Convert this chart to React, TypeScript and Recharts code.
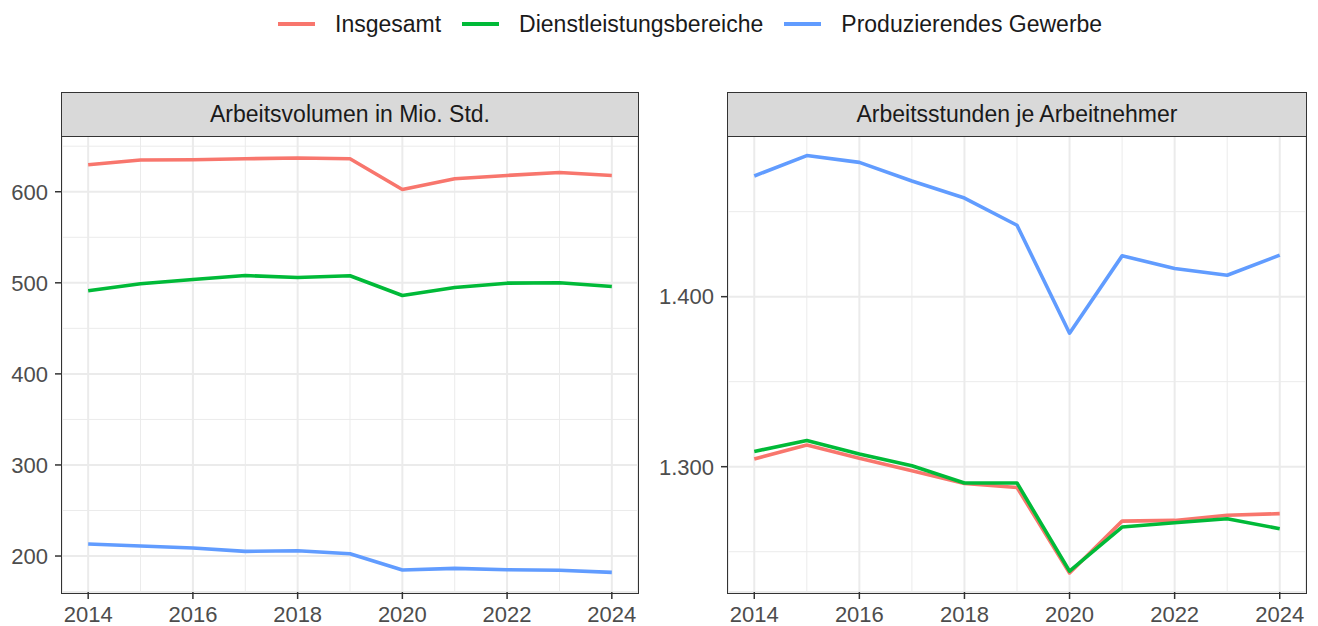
import React from "react"
import { LineChart, Line, XAxis, YAxis, CartesianGrid, ReferenceLine } from "recharts"

const years = [2014, 2015, 2016, 2017, 2018, 2019, 2020, 2021, 2022, 2023, 2024]

// Arbeitsvolumen in Mio. Std.
const volInsgesamt = [629.6, 634.8, 635.1, 636.2, 637, 636.2, 602.5, 614.3, 617.9, 621.2, 617.9]
const volDienst = [491.2, 498.9, 503.7, 508, 505.8, 507.7, 486.1, 494.9, 499.6, 500, 496]
const volProduz = [213.2, 211, 208.8, 205.1, 205.8, 202.5, 184.6, 186.4, 185, 184.3, 182.1]

// Arbeitsstunden je Arbeitnehmer
const stdInsgesamt = [1304.5, 1312.8, 1304.9, 1297.6, 1290.1, 1287.8, 1237.5, 1268, 1268.4, 1271.4, 1272.4]
const stdDienst = [1309, 1315.4, 1307.5, 1300.6, 1290.4, 1290.4, 1238.6, 1264.5, 1267, 1269.4, 1263.5]
const stdProduz = [1471, 1483, 1479, 1468, 1458, 1442, 1378.5, 1424, 1416.6, 1412.6, 1424.4]

const xTicks = [2014, 2016, 2018, 2020, 2022, 2024]
const xMinor = [2015, 2017, 2019, 2021, 2023]
const volTicks = [200, 300, 400, 500, 600]
const volMinor = [250, 350, 450, 550, 650]
const stdTicks = [1300, 1400]
const stdMinor = [1250, 1350, 1450]

const series = [
  { key: "insgesamt", name: "Insgesamt", color: "#F8766D" },
  { key: "dienst", name: "Dienstleistungsbereiche", color: "#00BA38" },
  { key: "produz", name: "Produzierendes Gewerbe", color: "#619CFF" },
]

const volData = years.map((y, i) => ({
  year: y,
  insgesamt: volInsgesamt[i],
  dienst: volDienst[i],
  produz: volProduz[i],
}))

const stdData = years.map((y, i) => ({
  year: y,
  insgesamt: stdInsgesamt[i],
  dienst: stdDienst[i],
  produz: stdProduz[i],
}))

const FONT = '"Liberation Sans", Arial, Helvetica, sans-serif'
const GRID = "#EBEBEB"
const DARK = "#333333"

function deNumber(v: number) {
  return String(v).replace(/\B(?=(\d{3})+(?!\d))/g, ".")
}

function Panel({
  left,
  width,
  yWidth,
  rightMargin,
  data,
  domain,
  ticks,
  minor,
  title,
}: {
  left: number
  width: number
  yWidth: number
  rightMargin: number
  data: typeof volData
  domain: [number, number]
  ticks: number[]
  minor: number[]
  title: string
}) {
  const plotW = width - yWidth - rightMargin
  return (
    <div style={{ position: "absolute", left, top: 0, width, height: 626 }}>
      <LineChart
        width={width}
        height={626}
        data={data}
        margin={{ top: 136, right: rightMargin, bottom: 0, left: 0 }}
      >
        <CartesianGrid stroke={GRID} strokeWidth={2} />
        {minor.map((v) => (
          <ReferenceLine key={"h" + v} y={v} stroke={GRID} strokeWidth={1} />
        ))}
        {xMinor.map((v) => (
          <ReferenceLine key={"v" + v} x={v} stroke={GRID} strokeWidth={1} />
        ))}
        <XAxis
          dataKey="year"
          type="number"
          domain={[2013.5, 2024.5]}
          ticks={xTicks}
          height={34}
          axisLine={false}
          tickLine={{ stroke: DARK, strokeWidth: 1.5 }}
          tickSize={7}
          tickMargin={7}
          tick={{ fill: "#4D4D4D", fontSize: 22, fontFamily: FONT }}
          allowDataOverflow
        />
        <YAxis
          type="number"
          domain={domain}
          ticks={ticks}
          width={yWidth}
          axisLine={false}
          tickLine={{ stroke: DARK, strokeWidth: 1.5 }}
          tickSize={7}
          tickMargin={7}
          tickFormatter={deNumber}
          tick={{ fill: "#4D4D4D", fontSize: 22, fontFamily: FONT }}
          allowDataOverflow
        />
        {series.map((s) => (
          <Line
            key={s.key}
            dataKey={s.key}
            name={s.name}
            stroke={s.color}
            strokeWidth={3.6}
            strokeLinejoin="round"
            dot={false}
            isAnimationActive={false}
          />
        ))}
      </LineChart>
      <div
        style={{
          position: "absolute",
          left: yWidth - 0.75,
          top: 92,
          width: plotW - 0.5,
          height: 500,
          border: `1.5px solid ${DARK}`,
          pointerEvents: "none",
        }}
      >
        <div
          style={{
            height: 43,
            background: "#D9D9D9",
            borderBottom: `1.5px solid ${DARK}`,
            display: "flex",
            alignItems: "center",
            justifyContent: "center",
            fontFamily: FONT,
            fontSize: 23,
            color: "#1A1A1A",
          }}
        >
          {title}
        </div>
      </div>
    </div>
  )
}

function Legend() {
  return (
    <div
      style={{
        position: "absolute",
        left: 278,
        top: 8,
        height: 32,
        display: "flex",
        alignItems: "center",
        fontFamily: FONT,
        fontSize: 23,
        color: "#1A1A1A",
      }}
    >
      {series.map((s) => (
        <div key={s.key} style={{ display: "flex", alignItems: "center", marginRight: 21 }}>
          <div style={{ width: 37, height: 4, background: s.color, marginRight: 20 }} />
          <span>{s.name}</span>
        </div>
      ))}
    </div>
  )
}

export default function App() {
  return (
    <div
      style={{
        position: "absolute",
        left: 0,
        top: 0,
        width: 1318,
        height: 626,
        background: "#FFFFFF",
        overflow: "hidden",
      }}
    >
      <Legend />
      <Panel
        left={0}
        width={660}
        yWidth={62}
        rightMargin={22}
        data={volData}
        domain={[160.5, 661.2]}
        ticks={volTicks}
        minor={volMinor}
        title="Arbeitsvolumen in Mio. Std."
      />
      <Panel
        left={660}
        width={658}
        yWidth={68}
        rightMargin={12}
        data={stdData}
        domain={[1226.3, 1494.5]}
        ticks={stdTicks}
        minor={stdMinor}
        title="Arbeitsstunden je Arbeitnehmer"
      />
    </div>
  )
}
